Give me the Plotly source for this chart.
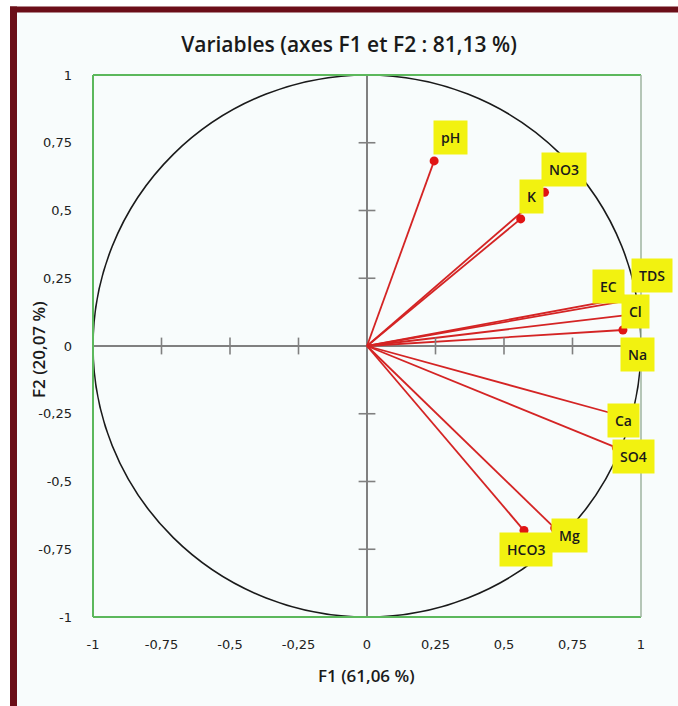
import plotly.graph_objects as go

# PCA correlation circle: loadings of each variable on factors F1 and F2
variables = ["pH", "NO3", "K", "EC", "TDS", "Cl", "Na", "Ca", "SO4", "Mg", "HCO3"]
f1 = [0.245, 0.648, 0.561, 0.930, 0.965, 0.955, 0.934, 0.900, 0.910, 0.685, 0.573]
f2 = [0.683, 0.567, 0.469, 0.175, 0.170, 0.115, 0.059, -0.250, -0.375, -0.672, -0.681]

tick_values = [-1, -0.75, -0.5, -0.25, 0, 0.25, 0.5, 0.75, 1]
tick_labels = ["-1", "-0,75", "-0,5", "-0,25", "0", "0,25", "0,5", "0,75", "1"]

title_text = "Variables (axes F1 et F2 : 81,13 %)"
x_title = "F1 (61,06 %)"
y_title = "F2 (20,07 %)"

# label box placement relative to each point (pixels, +y is up)
label_shift = {
    "pH": (16, 23), "NO3": (19, 23), "K": (11, 22), "EC": (-13, 12),
    "TDS": (21, 24), "Cl": (7, 3), "Na": (15, -24), "Ca": (10, -7),
    "SO4": (17, -9), "Mg": (15, -7), "HCO3": (2, -19),
}

W, H = 678, 706
ML, MR, MT, MB = 93, 37, 75, 89
PW, PH = W - ML - MR, H - MT - MB


def px_x(px):
    return (px - ML) / PW


def px_y(py):
    return (H - MB - py) / PH


RED = "#d42424"
GREY = "#808080"
GREEN = "#5cb85c"
BG = "#f8fcfc"
TEXT = "#1a1a1a"

fig = go.Figure()

# vectors from the origin to each variable
lx, ly = [], []
for a, b in zip(f1, f2):
    lx += [0, a, None]
    ly += [0, b, None]
fig.add_trace(go.Scatter(x=lx, y=ly, mode="lines",
                         line=dict(color=RED, width=1.8),
                         hoverinfo="skip", showlegend=False))
fig.add_trace(go.Scatter(x=f1, y=f2, mode="markers", text=variables,
                         marker=dict(color="#e01414", size=9),
                         hovertemplate="%{text}: %{x}, %{y}<extra></extra>",
                         showlegend=False))

# tick marks drawn across the zero lines
inner = [t for t in tick_values if t not in (-1, 0, 1)]
fig.add_trace(go.Scatter(x=inner, y=[0] * len(inner), mode="markers",
                         marker=dict(symbol="line-ns", size=12,
                                     line=dict(color=GREY, width=1.6)),
                         hoverinfo="skip", showlegend=False))
fig.add_trace(go.Scatter(x=[0] * len(inner), y=inner, mode="markers",
                         marker=dict(symbol="line-ew", size=12,
                                     line=dict(color=GREY, width=1.6)),
                         hoverinfo="skip", showlegend=False))

shapes = [
    # page tint and dark red frame
    dict(type="rect", xref="paper", yref="paper", layer="below",
         x0=px_x(17), x1=px_x(W + 2), y0=px_y(H + 2), y1=px_y(12),
         fillcolor=BG, line=dict(width=0)),
    dict(type="rect", xref="paper", yref="paper",
         x0=px_x(10), x1=px_x(W + 2), y0=px_y(12.5), y1=px_y(6.5),
         fillcolor="#6b0e18", line=dict(width=0)),
    dict(type="rect", xref="paper", yref="paper",
         x0=px_x(10), x1=px_x(17), y0=px_y(H + 2), y1=px_y(6.5),
         fillcolor="#6b0e18", line=dict(width=0)),
    # unit circle
    dict(type="circle", xref="x", yref="y", x0=-1, y0=-1, x1=1, y1=1,
         line=dict(color=TEXT, width=1.6)),
    # plot frame
    dict(type="line", xref="paper", yref="paper", x0=0, x1=1, y0=1, y1=1,
         line=dict(color=GREEN, width=2)),
    dict(type="line", xref="paper", yref="paper", x0=0, x1=1, y0=0, y1=0,
         line=dict(color=GREEN, width=2)),
    dict(type="line", xref="paper", yref="paper", x0=0, x1=0, y0=0, y1=1,
         line=dict(color=GREEN, width=2)),
    dict(type="line", xref="paper", yref="paper", x0=1, x1=1, y0=0, y1=1,
         line=dict(color="#9fb5a0", width=1.5)),
]

annotations = []
for name, a, b in zip(variables, f1, f2):
    dx, dy = label_shift[name]
    annotations.append(dict(
        x=a, y=b, xref="x", yref="y", text=name, showarrow=False,
        xshift=dx, yshift=dy, xanchor="center", yanchor="middle",
        bgcolor="#f2f210", borderpad=7,
        font=dict(family="Open Sans", size=14, color=TEXT, weight=600),
    ))

# axis titles
annotations.append(dict(
    x=px_x(366), y=px_y(675), xref="paper", yref="paper", text=x_title,
    showarrow=False, xanchor="center", yanchor="middle",
    font=dict(family="Open Sans", size=17, color=TEXT, weight=600)))
annotations.append(dict(
    x=px_x(38), y=px_y(350), xref="paper", yref="paper", text=y_title,
    showarrow=False, xanchor="center", yanchor="middle", textangle=-90,
    font=dict(family="Open Sans", size=17, color=TEXT, weight=600)))

axis_common = dict(
    range=[-1, 1], tickvals=tick_values, ticktext=tick_labels,
    showgrid=False, zeroline=True, zerolinecolor=GREY, zerolinewidth=1.5,
    showline=False, ticks="", fixedrange=True,
    tickfont=dict(family="DejaVu Sans", size=13, color="#222222"),
)

fig.update_layout(
    width=W, height=H,
    margin=dict(l=ML, r=MR, t=MT, b=MB),
    paper_bgcolor="white", plot_bgcolor=BG,
    title=dict(text=title_text, x=349 / W, xanchor="center",
               y=1 - 45 / H, yanchor="middle",
               font=dict(family="Open Sans", size=21, color=TEXT, weight=600)),
    xaxis=dict(**axis_common, ticklabelstandoff=18),
    yaxis=dict(**axis_common, ticklabelstandoff=20),
    shapes=shapes,
    annotations=annotations,
    showlegend=False,
)

fig.write_html("out.html")
